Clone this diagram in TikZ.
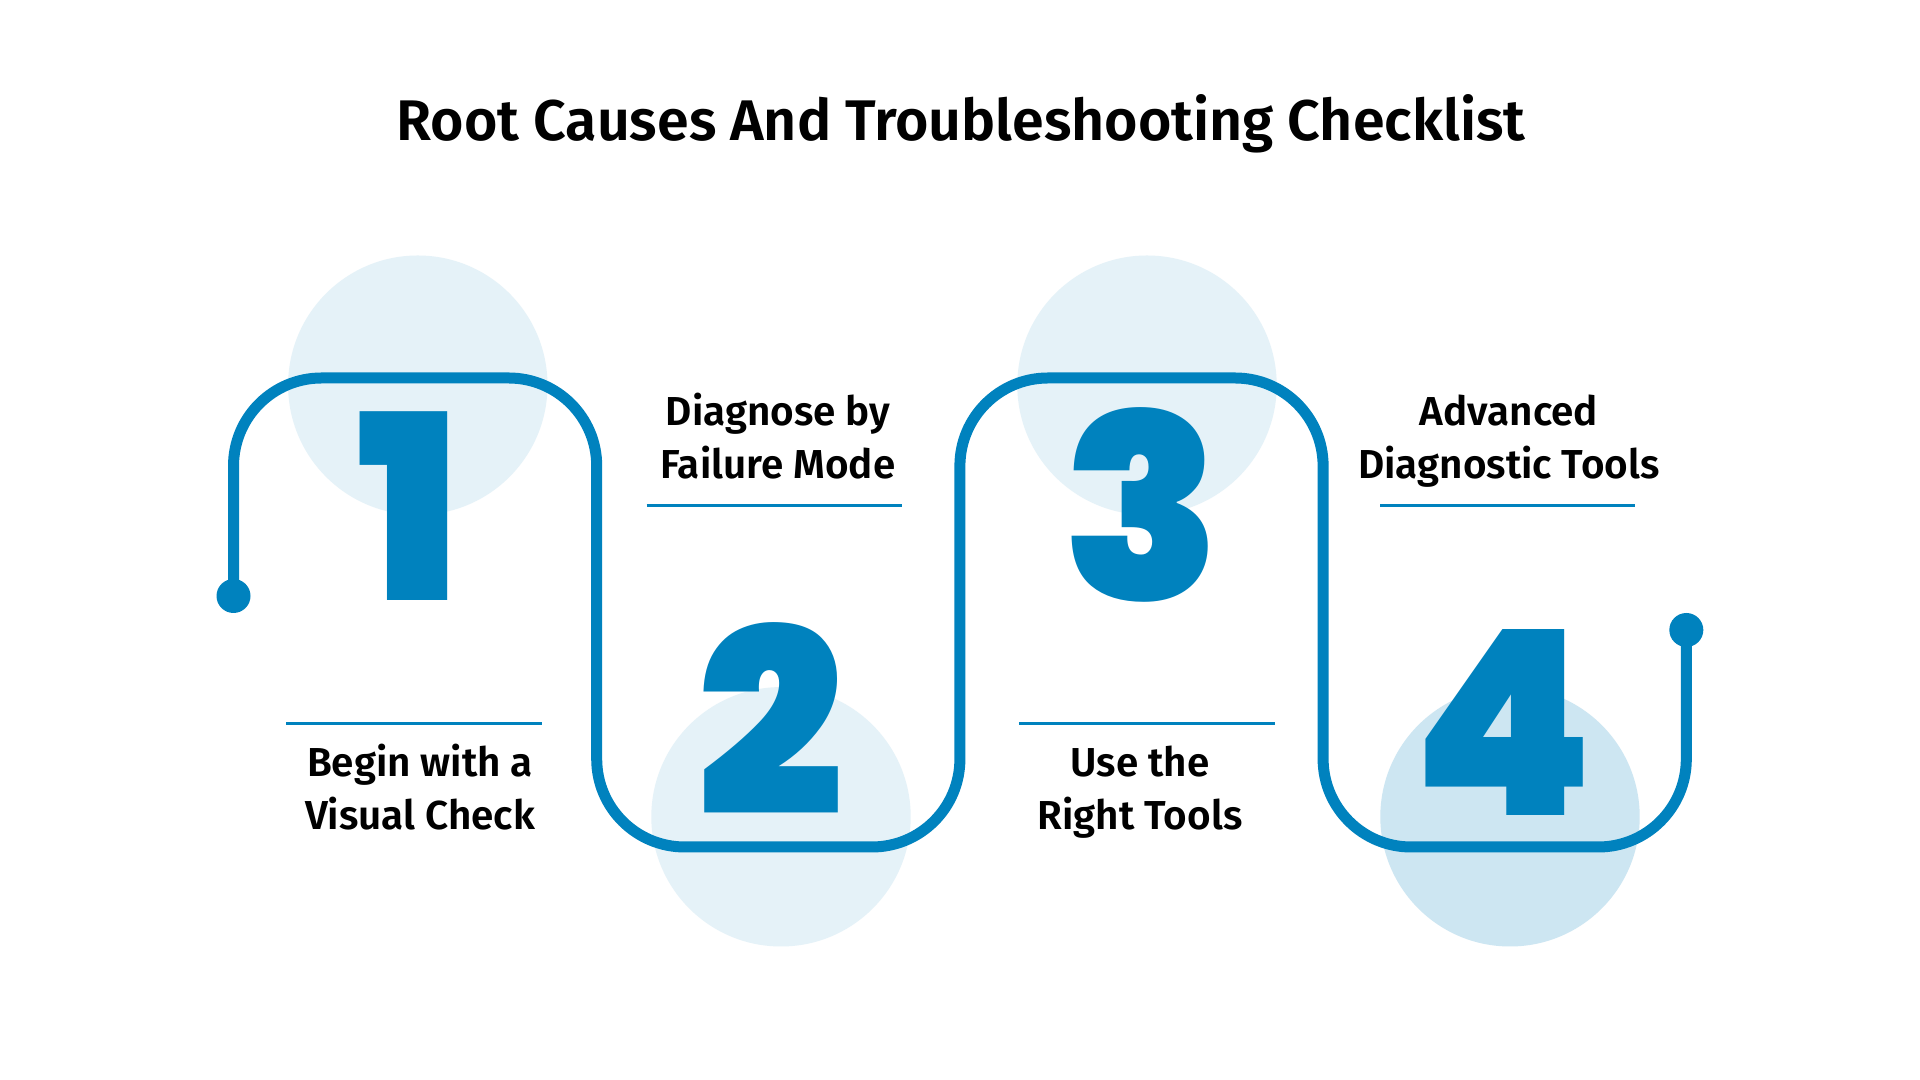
\documentclass[tikz,border=0pt]{standalone}
\usepackage{fontspec}
\setmainfont{Fira Sans}
\IfFontExistsTF{Fira Sans SemiBold}
  {\newfontfamily\headfont{Fira Sans SemiBold}}
  {\newfontfamily\headfont{Fira Sans}[UprightFont=*-Bold]}
\newfontfamily\digitfont{Poppins Black}
\usetikzlibrary{positioning}
\definecolor{trackblue}{RGB}{0,130,190}
\definecolor{paleblue}{RGB}{229,242,248}
\definecolor{softblue}{RGB}{205,230,242}
\tikzset{
  track/.style={line width=0.11cm, draw=trackblue, rounded corners=0.88cm},
  endpoint/.style={circle, fill=trackblue, inner sep=0pt, minimum size=0.34cm},
  bubble/.style={circle, inner sep=0pt, minimum size=2.594cm},
  digitmark/.style={text=trackblue, font=\digitfont\fontsize{73.5}{76}\selectfont, inner sep=0pt, anchor=base},
  steplabel/.style={font=\headfont\fontsize{11.5}{15}\selectfont, align=center, inner sep=0pt, anchor=base},
  stepline/.style={line width=0.03cm, draw=trackblue},
}
\begin{document}
\begin{tikzpicture}
                \useasboundingbox (0,0) rectangle (19.200000,10.800000);
                \fill [white] (0,0) rectangle (19.200000,10.800000);%

                % Drawing title
                \node [font=\headfont\fontsize{16.3}{20}\selectfont, anchor=base] (title) at (9.610000,9.393000) {Root Causes And Troubleshooting Checklist};%

                % Drawing bubbles behind the digits
                \node [bubble, fill=paleblue] (bubble1) at (4.178000,6.948000) {};%
                \node [bubble, fill=paleblue] (bubble2) at (7.810000,2.632000) {};%
                \node [bubble, fill=paleblue] (bubble3) at (11.470000,6.948000) {};%
                \node [bubble, fill=softblue] (bubble4) at (15.100000,2.632000) {};%

                % Marking end points of the track
                \node [endpoint] (start) at (2.335000,4.840000) {};%
                \node [endpoint] (finish) at (16.863000,4.500000) {};%

                % Drawing track from start to finish
                \draw [track] (start.center) -- (2.335000,7.020000) -- (5.967000,7.020000)
                      -- (5.967000,2.330000) -- (9.599000,2.330000) -- (9.599000,7.020000)
                      -- (13.231000,7.020000) -- (13.231000,2.330000) -- (16.863000,2.330000)
                      -- (finish.center);%

                % Marking digits
                \node [digitmark] (digit1) at (4.090000,4.790000) {1};%
                \node [digitmark] (digit2) at (7.710000,2.643000) {2};%
                \node [digitmark] (digit3) at (11.420000,4.790000) {3};%
                \node [digitmark] (digit4) at (15.030000,2.643000) {4};%

                % Drawing step 1
                \draw [stepline] (2.860000,3.560000) -- (5.417000,3.560000);%
                \node [steplabel] (label1) at (4.200000,2.507000) {Begin with a\\Visual Check};%

                % Drawing step 2
                \draw [stepline] (6.467000,5.740000) -- (9.023000,5.740000);%
                \node [steplabel] (label2) at (7.780000,6.017000) {Diagnose by\\Failure Mode};%

                % Drawing step 3
                \draw [stepline] (10.188000,3.560000) -- (12.747000,3.560000);%
                \node [steplabel] (label3) at (11.400000,2.507000) {Use the\\Right Tools};%

                % Drawing step 4
                \draw [stepline] (13.800000,5.740000) -- (16.348000,5.740000);%
                \node [steplabel] (label4) at (15.090000,6.017000) {Advanced\\Diagnostic Tools};%
\end{tikzpicture}
\end{document}
